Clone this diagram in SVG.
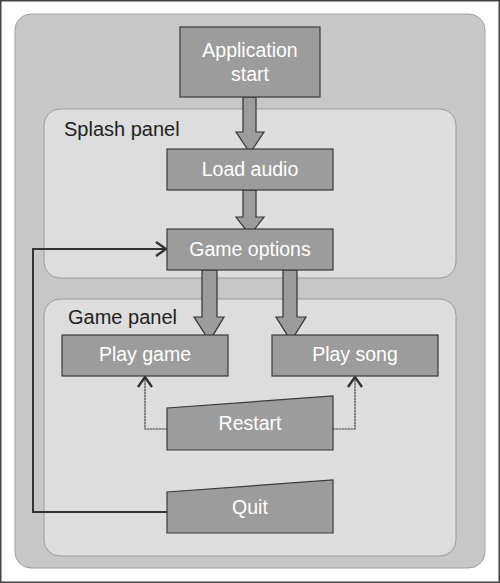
<svg xmlns="http://www.w3.org/2000/svg" width="500" height="583" viewBox="0 0 500 583">
<defs>
<style>
.panel-outer{fill:#c6c7c6;stroke:#a0a0a0;stroke-width:1}
.panel{fill:#dcdddc;stroke:#9a9a9a;stroke-width:1}
.box{fill:#9c9c9c;stroke:#3a3a3a;stroke-width:1.2}
.lbl{font-family:"Liberation Sans",Arial,sans-serif;font-size:19.5px;fill:#fff;text-anchor:middle}
.plbl{font-family:"Liberation Sans",Arial,sans-serif;font-size:20px;fill:#222}
.bigarrow{fill:#9c9c9c;stroke:#333;stroke-width:1.2;stroke-linejoin:miter}
.thin{fill:none;stroke:#444;stroke-width:1.2;stroke-dasharray:2.5 0.5}
.thick{fill:none;stroke:#333;stroke-width:2}
</style>
<marker id="chev" viewBox="0 0 12 16" refX="11" refY="8" markerWidth="12" markerHeight="16" markerUnits="userSpaceOnUse" orient="auto">
<path d="M1,1 L11,8 L1,15" fill="none" stroke="#333" stroke-width="2.4"/>
</marker>
</defs>
<rect x="0.75" y="0.75" width="498.5" height="581.5" fill="#fff" stroke="#444" stroke-width="1.5"/>
<g id="outer-panel"><rect class="panel-outer" x="15" y="14" width="470" height="554" rx="16"/></g>
<g id="splash-panel">
<rect class="panel" x="44" y="109" width="412" height="169" rx="16"/>
<text class="plbl" x="64" y="136">Splash panel</text>
</g>
<g id="game-panel">
<rect class="panel" x="44" y="299" width="412" height="257" rx="16"/>
<text class="plbl" x="68" y="324">Game panel</text>
</g>
<g id="connectors">
<path class="bigarrow" d="M243,97 L256,97 L256,132 L264,132 L250,153 L236,132 L243,132 Z"/>
<path class="bigarrow" d="M243,190 L256,190 L256,217 L264,217 L250,235 L236,217 L243,217 Z"/>
<path class="bigarrow" d="M202,270 L217,270 L217,317 L224,317 L209.5,341 L194,317 L202,317 Z"/>
<path class="bigarrow" d="M283,270 L297,270 L297,317 L306,317 L291,341 L276,317 L283,317 Z"/>
<path class="thin" d="M167,429 L145,429 L145,377" marker-end="url(#chev)"/>
<path class="thin" d="M333,429 L355,429 L355,377" marker-end="url(#chev)"/>
<path class="thick" d="M167,512 L33,512 L33,249 L166,249" marker-end="url(#chev)"/>
</g>
<g id="app-start">
<rect class="box" x="180" y="27" width="140" height="70"/>
<text class="lbl" x="250" y="57">Application</text>
<text class="lbl" x="250" y="81">start</text>
</g>
<g id="load-audio">
<rect class="box" x="167" y="149" width="166" height="41"/>
<text class="lbl" x="250" y="176">Load audio</text>
</g>
<g id="game-options">
<rect class="box" x="167" y="229" width="166" height="41"/>
<text class="lbl" x="250" y="256">Game options</text>
</g>
<g id="play-game">
<rect class="box" x="62" y="335" width="166" height="41"/>
<text class="lbl" x="145" y="361">Play game</text>
</g>
<g id="play-song">
<rect class="box" x="272" y="335" width="166" height="41"/>
<text class="lbl" x="355" y="361">Play song</text>
</g>
<g id="restart">
<path class="box" d="M167,408 L333,396 L333,450 L167,450 Z"/>
<text class="lbl" x="250" y="430">Restart</text>
</g>
<g id="quit">
<path class="box" d="M167,492 L333,480 L333,533 L167,533 Z"/>
<text class="lbl" x="250" y="514">Quit</text>
</g>
</svg>
